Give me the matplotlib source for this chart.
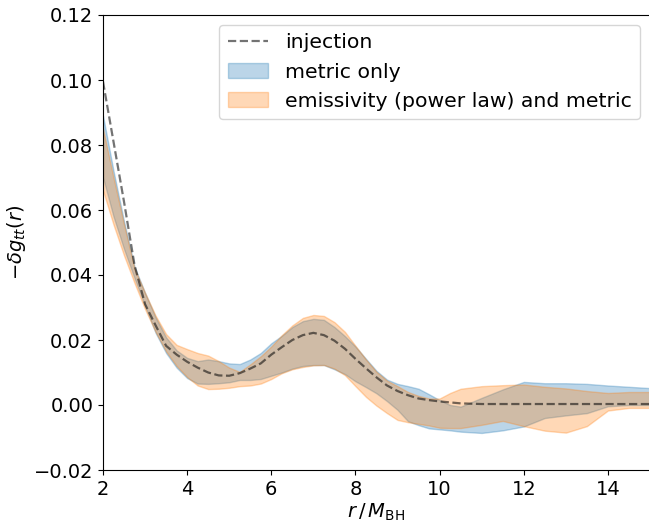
import numpy as np
import matplotlib
matplotlib.use("Agg")
import matplotlib.pyplot as plt

# radius grid (r / M_BH)
r = [2.0, 2.25, 2.5, 2.75, 3.0, 3.25, 3.5, 3.75, 4.0, 4.25, 4.5, 4.75, 5.0, 5.25,
     5.5, 5.75, 6.0, 6.25, 6.5, 6.75, 7.0, 7.25, 7.5, 7.75, 8.0, 8.25, 8.5, 8.75,
     9.0, 9.25, 9.5, 9.75, 10.0, 10.25, 10.5, 11.0, 11.5, 12.0, 12.5, 13.0, 13.5,
     14.0, 14.5, 15.0]

injection = [0.0995, 0.081, 0.0625, 0.0430, 0.031, 0.0245, 0.0182, 0.0155, 0.0133,
             0.0115, 0.0100, 0.0091, 0.0090, 0.0098, 0.0112, 0.0128, 0.0155, 0.0178,
             0.0200, 0.0215, 0.0222, 0.0215, 0.0198, 0.0173, 0.0142, 0.0113, 0.0085,
             0.0060, 0.0043, 0.0030, 0.0020, 0.0015, 0.0011, 0.0008, 0.0005, 0.0003,
             0.0003, 0.0003, 0.0003, 0.0003, 0.0003, 0.0003, 0.0003, 0.0003]

metric_hi = [0.089, 0.072, 0.0565, 0.0425, 0.0345, 0.027, 0.0208, 0.0168, 0.0145,
             0.0135, 0.0140, 0.0135, 0.0128, 0.0126, 0.0140, 0.0160, 0.0190, 0.0213,
             0.0240, 0.0258, 0.0265, 0.0262, 0.0240, 0.0212, 0.0180, 0.0142, 0.0105,
             0.0078, 0.0065, 0.0058, 0.0050, 0.0033, 0.0015, 0.0000, -0.0005, 0.0022,
             0.0048, 0.0071, 0.0067, 0.0067, 0.0065, 0.0060, 0.0056, 0.0052]

metric_lo = [0.070, 0.058, 0.048, 0.039, 0.0305, 0.0222, 0.0160, 0.0115, 0.0083,
             0.0066, 0.0065, 0.0067, 0.0070, 0.0077, 0.0077, 0.0080, 0.0090, 0.0100,
             0.0112, 0.0120, 0.0123, 0.0123, 0.0110, 0.0095, 0.0073, 0.0055, 0.0036,
             0.0012, -0.0015, -0.0050, -0.0062, -0.0072, -0.0075, -0.0078, -0.0082,
             -0.0086, -0.0078, -0.0066, -0.0040, -0.0032, -0.0025, -0.0004, 0.0000,
             0.0000]

emis_hi = [0.085, 0.070, 0.0555, 0.0420, 0.0345, 0.0275, 0.0218, 0.0185, 0.0172,
           0.0160, 0.0152, 0.0135, 0.0115, 0.0102, 0.0125, 0.0150, 0.0180, 0.0215,
           0.0245, 0.0268, 0.0277, 0.0274, 0.0255, 0.0225, 0.0182, 0.0140, 0.0102,
           0.0075, 0.0058, 0.0040, 0.0028, 0.0020, 0.0020, 0.0037, 0.0050, 0.0058,
           0.0061, 0.0063, 0.0056, 0.0051, 0.0043, 0.0037, 0.0040, 0.0040]

emis_lo = [0.066, 0.0555, 0.046, 0.0375, 0.0295, 0.0225, 0.0165, 0.0120, 0.0086,
           0.0060, 0.0049, 0.0050, 0.0053, 0.0058, 0.0060, 0.0066, 0.0080, 0.0098,
           0.0110, 0.0117, 0.0122, 0.0123, 0.0112, 0.0092, 0.0058, 0.0025, -0.0002,
           -0.0025, -0.0046, -0.0053, -0.0058, -0.0063, -0.0070, -0.0071, -0.0071,
           -0.0061, -0.0049, -0.0065, -0.0079, -0.0085, -0.0065, -0.0017, -0.0009,
           -0.0009]

fig = plt.figure(figsize=(6.49, 5.23), dpi=100)
ax = fig.add_axes([103/649, 53/523, 547/649, 455/523])

ax.plot(r, injection, '--', color='k', alpha=0.55, lw=1.6, label='injection', zorder=3)
ax.fill_between(r, metric_lo, metric_hi, color='C0', alpha=0.3, label='metric only')
ax.fill_between(r, emis_lo, emis_hi, color='C1', alpha=0.3,
                label='emissivity (power law) and metric')

ax.set_xlim(2, 15)
ax.set_ylim(-0.02, 0.12)
ax.set_xticks([2, 4, 6, 8, 10, 12, 14])
ax.set_yticks(np.arange(-0.02, 0.121, 0.02))
ax.tick_params(labelsize=14)
ax.set_xlabel(r'$r\,/\,M_{\rm BH}$', fontsize=14, labelpad=2)
ax.set_ylabel(r'$-\delta g_{tt}(r)$', fontsize=14)
ax.legend(loc='upper right', fontsize=14.7, borderaxespad=0.5)

fig.savefig('out.png', dpi=100)
